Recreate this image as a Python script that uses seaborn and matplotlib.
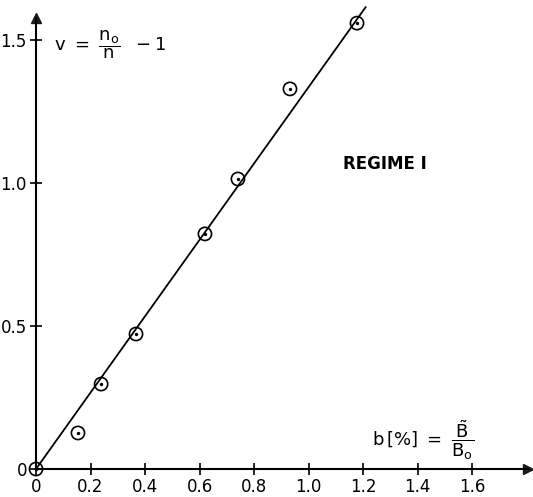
import matplotlib
matplotlib.use("Agg")
import matplotlib.pyplot as plt
import seaborn as sns
import numpy as np
import pandas as pd

# measured points: relative field amplitude b and v = n0/n - 1
b_values = [0.0, 0.154, 0.239, 0.367, 0.620, 0.741, 0.932, 1.178]
v_values = [0.0, 0.126, 0.297, 0.472, 0.822, 1.014, 1.329, 1.559]

# straight-line fit through the origin
fit_slope = 1.335
fit_b_end = 1.21

x_ticks = [0, 0.2, 0.4, 0.6, 0.8, 1.0, 1.2, 1.4, 1.6]
x_tick_labels = ["0", "0.2", "0.4", "0.6", "0.8", "1.0", "1.2", "1.4", "1.6"]
y_ticks = [0, 0.5, 1.0, 1.5]
y_tick_labels = ["0", "0.5", "1.0", "1.5"]

sns.set_theme(style="white")
plt.rcParams["font.family"] = ["DejaVu Sans"]
plt.rcParams["mathtext.default"] = "regular"
plt.rcParams["text.color"] = "black"

df = pd.DataFrame({"b": b_values, "v": v_values})
fit_df = pd.DataFrame({"b": [0.0, fit_b_end], "v": [0.0, fit_slope * fit_b_end]})

W, H = 533, 497
fig = plt.figure(figsize=(W / 100, H / 100), dpi=100)
x0, y0 = 36, 469
x_end, y_end = 528, 18
ax = fig.add_axes([x0 / W, (H - y0) / H, (x_end - x0) / W, (y0 - y_end) / H])
ax.set_xlim(0, (x_end - x0) / 272.5)
ax.set_ylim(0, (y0 - y_end) / 286.0)
ax.patch.set_alpha(0)

sns.lineplot(data=fit_df, x="b", y="v", ax=ax, color="black", lw=1.3, clip_on=False)
sns.scatterplot(data=df, x="b", y="v", ax=ax, marker="o", s=90, facecolor="none",
                edgecolor="black", linewidth=1.2, clip_on=False, zorder=4)
sns.scatterplot(data=df, x="b", y="v", ax=ax, marker="o", s=6, color="black",
                linewidth=0, clip_on=False, zorder=5)

for side in ["top", "right"]:
    ax.spines[side].set_visible(False)
for side in ["left", "bottom"]:
    ax.spines[side].set_color("black")
    ax.spines[side].set_linewidth(1.5)

# arrowheads at the axis ends
ax.plot(1, 0, ">k", markersize=7, transform=ax.transAxes, clip_on=False)
ax.plot(0, 1, "^k", markersize=7, transform=ax.transAxes, clip_on=False)

ax.set_xticks(x_ticks)
ax.set_xticklabels(x_tick_labels)
ax.set_yticks(y_ticks)
ax.set_yticklabels(y_tick_labels)
ax.tick_params(axis="both", direction="inout", length=9, width=1.2, color="black",
               labelsize=12, labelcolor="black", pad=2, bottom=True, left=True)
ax.set_xlabel("")
ax.set_ylabel("")

ax.text(0.065, 1.483, r"$v\ =\ \dfrac{n_o}{n}\ \ -1$", fontsize=13, ha="left", va="center")
ax.text(1.233, 0.10, r"$b\,[\%]\ =\ \dfrac{\tilde{B}}{B_o}$", fontsize=13, ha="left", va="center")
ax.text(1.28, 1.065, "REGIME I", fontsize=12, ha="center", va="center", fontweight="semibold")

fig.savefig("out.png", dpi=100)
